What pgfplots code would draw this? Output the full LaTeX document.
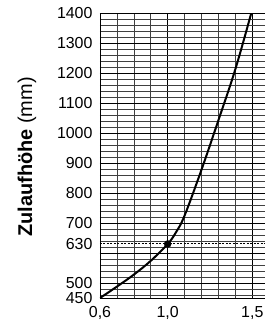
\documentclass[border=0pt]{standalone}
\usepackage{pgfplots}
\pgfplotsset{compat=1.18}
\usepackage{fontspec}
\setmainfont{Liberation Sans}
\begin{document}
\begin{tikzpicture}
\begin{axis}[
  at={(0,0)}, anchor=south west,
  scale only axis, width=165bp, height=285bp,
  xmin=0.6, xmax=1.575, ymin=450, ymax=1400,
  axis x line*=bottom, axis y line*=left,
  axis line style={black, line width=0.9bp},
  xtick={0.6,1.0,1.5}, xticklabels={{0,6},{1,0},{1,5}},
  minor xtick={0.7,0.8,0.9,1.1,1.2,1.3,1.4},
  ytick={450,500,630,700,800,900,1000,1100,1200,1300,1400},
  /pgf/number format/1000 sep={},
  minor ytick={460,480,...,1400},
  extra y ticks={500,600,700,800,900,1000,1100,1200,1300,1400},
  extra y tick labels={},
  extra y tick style={ymajorgrids=true, major grid style={black, line width=0.8bp}},
  xmajorgrids=true, xminorgrids=true, yminorgrids=true, ymajorgrids=false,
  major grid style={black, line width=0.8bp},
  minor grid style={black!75, line width=0.6bp},
  major tick length=0pt, minor tick length=0pt,
  /pgf/number format/assume math mode=true,
  tick label style={font=\fontsize{16}{19}\selectfont},
  yticklabel style={xshift=-4bp},
  xticklabel style={yshift=-5bp},
]
\addplot[black, line width=0.6bp, dashed, dash pattern=on 2bp off 1.5bp] coordinates {(0.6,631) (1.575,631)};
\addplot[black, line width=2bp, smooth, tension=0.6] coordinates {
  (0.6,450) (0.7,488) (0.8,528) (0.9,574) (1.0,630) (1.05,670) (1.1,725)
  (1.2,878) (1.3,1043) (1.4,1213) (1.494,1400)
};
\addplot[only marks, mark=*, mark size=3.5bp, black] coordinates {(1.0,630)};
\end{axis}
\node[rotate=90, font=\fontsize{20}{24}\selectfont] at (-73bp,141bp) {\textbf{Zulaufhöhe} (mm)};
\pgfresetboundingbox
\path (-100bp,-27bp) rectangle (165bp,298bp);
\end{tikzpicture}
\end{document}
